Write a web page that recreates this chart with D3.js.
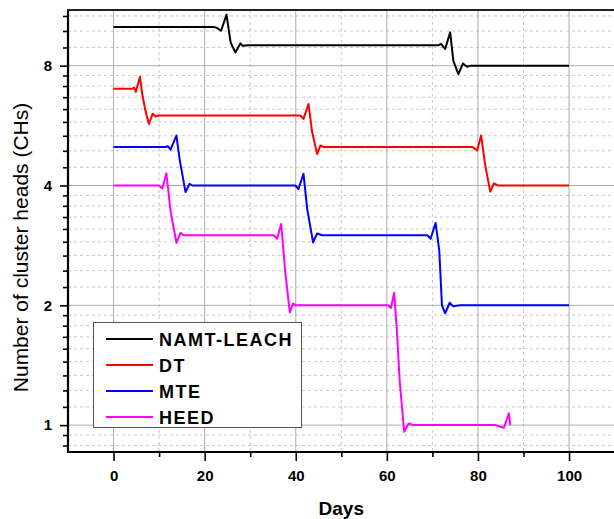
<!DOCTYPE html>
<html>
<head>
<meta charset="utf-8">
<script src="https://cdnjs.cloudflare.com/ajax/libs/d3/7.8.5/d3.min.js"></script>
<style>
  body { margin: 0; background: #fff; }
  text { font-family: Arial, "Liberation Sans", sans-serif; }
</style>
</head>
<body>
<svg id="viz"></svg>
<script>
// series: [day, number of CHs]
var namtLeach = [[0,10],[22.0,10],[22.6,9.97],[23.6,9.79],[24.8,10.74],[25.7,9.15],[26.75,8.64],[27.85,9.1],[28.3,8.98],[29.7,9],
	[71.3,9],[71.9,9.08],[72.8,8.81],[73.9,9.7],[74.6,8.23],[75.7,7.62],[76.7,8.1],[77.6,7.95],[78.3,8],[100,8]]
var dt = [[0,7],[4.1,7],[4.5,7.05],[4.9,6.88],[5.8,7.5],[6.3,6.79],[7.0,6.17],[7.75,5.71],[8.6,6.06],[9.2,5.96],[9.9,6],
	[41.0,6],[41.7,5.88],[42.8,6.41],[43.6,5.44],[44.7,4.8],[45.4,5.04],[46.1,5],
	[78.7,5],[79.8,4.9],[80.7,5.34],[81.6,4.49],[82.7,3.86],[83.5,4.05],[84.4,4],[100,4]]
var mte = [[0,5],[11.4,5],[11.9,5.02],[12.5,4.92],[13.8,5.34],[14.55,4.62],[15.8,3.85],[16.7,4.04],[17.3,4],
	[39.9,4],[40.6,3.92],[41.7,4.28],[42.5,3.5],[43.8,2.88],[44.7,3.03],[45.8,3],
	[68.9,3],[69.6,2.94],[70.7,3.22],[71.5,2.75],[72.1,2.0],[72.8,1.91],[73.8,2.03],[74.5,1.99],[76.1,2],[100,2]]
var heed = [[0,4],[9.9,4],[10.7,3.93],[11.6,4.29],[12.5,3.46],[13.8,2.87],[14.7,3.04],[15.4,3],
	[35.2,3],[35.9,2.94],[36.8,3.2],[37.7,2.42],[38.7,1.92],[39.4,2.02],[40.1,2],
	[60.2,2],[60.9,1.97],[61.6,2.15],[62.2,1.73],[62.8,1.3],[63.8,0.962],[64.8,1.01],[65.9,1],
	[83.8,1],[85.7,0.985],[86.8,1.07],[87.1,1.0]]

var seriesNames = ["NAMT-LEACH", "DT", "MTE", "HEED"]
var seriesData = [namtLeach, dt, mte, heed]
var seriesColors = ["#000000", "#ff0000", "#0000ff", "#ff00ff"]

var xTicks = [0, 20, 40, 60, 80, 100]
var xMinor = [10, 30, 50, 70, 90]
var yTicks = [1, 2, 4, 8]

var width = 614;
var height = 519;

var svg = d3.select("#viz")
	.attr("width", width)
	.attr("height", height)
	.style("display", "block")

// plot box (note: "top" is taken by window.top, so pTop etc.)
var pLeft = 68, pRight = 614.6, pTop = 10, pBottom = 452;

var x = d3.scaleLinear().domain([-10, 110]).range([pLeft, pRight])
var y = d3.scaleLog().base(2).domain([0.856, 11.04]).range([pBottom, pTop])

// minor log ticks: 8 per octave, equally spaced in value
var yMinor = []
for (let n = -1; n <= 3; n++) {
	let b = Math.pow(2, n)
	for (let k = 1; k <= 8; k++) {
		let v = b * (1 + k / 9)
		if (v > y.domain()[0] && v < y.domain()[1]) yMinor.push(v)
	}
}

// grid
var grid = svg.append("g")
grid.selectAll(".hminor").data(yMinor).join("line")
	.attr("x1", pLeft).attr("x2", pRight)
	.attr("y1", d => y(d)).attr("y2", d => y(d))
	.attr("stroke", "#c8c8c8").attr("stroke-dasharray", "3,3")
grid.selectAll(".vminor").data(xMinor).join("line")
	.attr("x1", d => x(d)).attr("x2", d => x(d))
	.attr("y1", pTop).attr("y2", pBottom)
	.attr("stroke", "#c8c8c8").attr("stroke-dasharray", "3,3")
grid.selectAll(".hmajor").data(yTicks).join("line")
	.attr("x1", pLeft).attr("x2", pRight)
	.attr("y1", d => y(d)).attr("y2", d => y(d))
	.attr("stroke", "#acacac")
grid.selectAll(".vmajor").data(xTicks).join("line")
	.attr("x1", d => x(d)).attr("x2", d => x(d))
	.attr("y1", pTop).attr("y2", pBottom)
	.attr("stroke", "#acacac")

// series
var line = d3.line().x(d => x(d[0])).y(d => y(d[1]))

svg.selectAll(".series")
	.data(seriesData)
	.join("path")
	.attr("class", "series")
	.attr("d", d => line(d))
	.style("fill", "none")
	.style("stroke", (d, i) => seriesColors[i])
	.style("stroke-width", 2)
	.style("stroke-linejoin", "round")

// axes
svg.append("g")
	.attr("transform", "translate(0," + pBottom + ")")
	.call(d3.axisBottom(x).tickValues(xTicks).tickSize(9).tickPadding(9).tickSizeOuter(0))
svg.append("g")
	.attr("transform", "translate(0," + pBottom + ")")
	.call(d3.axisBottom(x).tickValues(xMinor).tickSize(5).tickFormat("").tickSizeOuter(0))
svg.append("g")
	.attr("transform", "translate(" + pLeft + ",0)")
	.call(d3.axisLeft(y).tickValues(yTicks).tickFormat(d3.format("d")).tickSize(8).tickPadding(8).tickSizeOuter(0))
svg.append("g")
	.attr("transform", "translate(" + pLeft + ",0)")
	.call(d3.axisLeft(y).tickValues(yMinor).tickSize(5).tickFormat("").tickSizeOuter(0))

svg.selectAll(".domain").remove()
svg.selectAll(".tick line").attr("stroke", "#000").attr("stroke-width", 1.6)
svg.selectAll(".tick text")
	.style("font-size", "15px")
	.style("font-weight", "bold")
	.attr("fill", "#000")

// frame
svg.append("line").attr("x1", pLeft).attr("x2", pLeft).attr("y1", pTop).attr("y2", pBottom + 1)
	.attr("stroke", "#000").attr("stroke-width", 2.2)
svg.append("line").attr("x1", pLeft - 1).attr("x2", width).attr("y1", pBottom).attr("y2", pBottom)
	.attr("stroke", "#000").attr("stroke-width", 2.2)
svg.append("line").attr("x1", pLeft - 1).attr("x2", width).attr("y1", pTop).attr("y2", pTop)
	.attr("stroke", "#222").attr("stroke-width", 2)

// legend
var legend = svg.append("g")
legend.append("rect")
	.attr("x", 93.5).attr("y", 322.5).attr("width", 208).attr("height", 105)
	.attr("fill", "#fff").attr("stroke", "#555").attr("stroke-width", 1)
var rows = legend.selectAll(".row").data(seriesNames).join("g")
	.attr("transform", (d, i) => "translate(0," + (339 + i * 26) + ")")
rows.append("line")
	.attr("x1", 106).attr("x2", 153).attr("y1", 0).attr("y2", 0)
	.attr("stroke", (d, i) => seriesColors[i]).attr("stroke-width", 2)
rows.append("text")
	.attr("x", 159).attr("y", 6.5)
	.style("font-size", "18px").style("font-weight", "bold")
	.style("letter-spacing", "1.5px")
	.text(d => d)

// axis titles
svg.append("text")
	.attr("transform", "translate(28,247.5) rotate(-90)")
	.attr("text-anchor", "middle")
	.style("font-size", "21px")
	.text("Number of cluster heads (CHs)")
svg.append("text")
	.attr("x", (pLeft + pRight) / 2).attr("y", 515)
	.attr("text-anchor", "middle")
	.style("font-size", "19px").style("font-weight", "bold")
	.text("Days")
</script>
</body>
</html>
